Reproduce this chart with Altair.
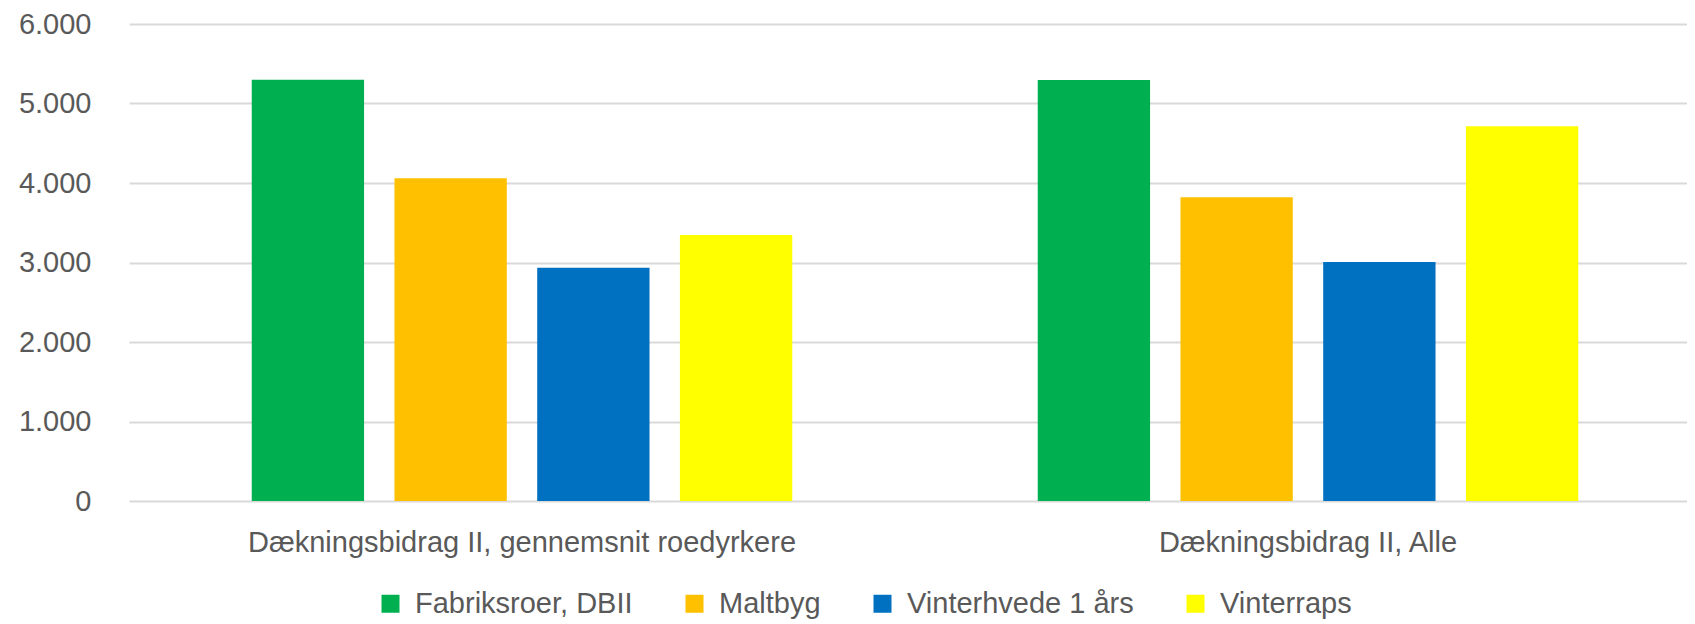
import altair as alt
import pandas as pd

categories = ["Dækningsbidrag II, gennemsnit roedyrkere", "Dækningsbidrag II, Alle"]
series = ["Fabriksroer, DBII", "Maltbyg", "Vinterhvede 1 års", "Vinterraps"]
colors = ["#00B050", "#FFC000", "#0070C0", "#FFFF00"]
fabriksroer = [5300, 5295]
maltbyg = [4060, 3820]
vinterhvede = [2935, 3005]
vinterraps = [3345, 4715]
y_ticks = [0, 1000, 2000, 3000, 4000, 5000, 6000]

values = [fabriksroer, maltbyg, vinterhvede, vinterraps]
rows = []
for s, vals in zip(series, values):
    for c, v in zip(categories, vals):
        rows.append({"category": c, "series": s, "value": v})
df = pd.DataFrame(rows)

FONT = "Liberation Sans"
TXT = "#595959"
FS = 29

chart = alt.Chart(df).mark_bar().encode(
    x=alt.X("category:N", sort=categories,
            scale=alt.Scale(range=[0, 1572], paddingInner=0, paddingOuter=0),
            axis=alt.Axis(title=None, labelAngle=0, ticks=False, tickSize=0, domain=False,
                          labelFontSize=FS, labelColor=TXT, labelFont=FONT,
                          labelPadding=27, labelLimit=2000, labelBaseline="top")),
    xOffset=alt.XOffset("series:N", sort=series,
                        scale=alt.Scale(paddingInner=0.213, paddingOuter=0.86)),
    y=alt.Y("value:Q", scale=alt.Scale(domain=[0, 6000], nice=False),
            axis=alt.Axis(title=None, values=y_ticks, ticks=False, tickSize=0, domain=False,
                          labelExpr="replace(format(datum.value, ','), ',', '.')",
                          labelFontSize=FS, labelColor=TXT, labelFont=FONT, labelPadding=38,
                          gridColor="#D9D9D9", gridWidth=2)),
    color=alt.Color("series:N", sort=series,
                    scale=alt.Scale(domain=series, range=colors),
                    legend=alt.Legend(title=None, orient="none", direction="horizontal",
                                      legendX=247, legendY=565,
                                      symbolType="square", symbolSize=324, symbolStrokeWidth=0,
                                      labelFontSize=FS, labelColor=TXT, labelFont=FONT,
                                      labelOffset=10, columnPadding=47, labelLimit=2000)),
).properties(
    width=1558,
    height=477,
    autosize=alt.AutoSizeParams(type="none"),
    padding={"left": 121, "top": 16, "right": 0, "bottom": 123},
).configure(font=FONT).configure_view(stroke=None)

chart.save("out.html", embed_options={"renderer": "svg", "actions": False})
